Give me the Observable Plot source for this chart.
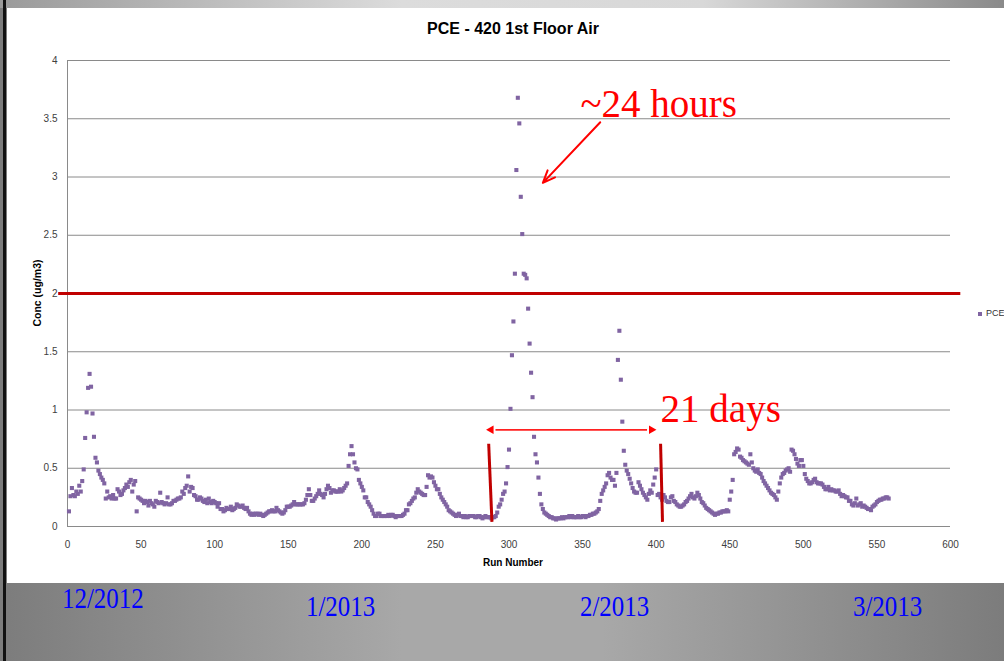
<!DOCTYPE html>
<html>
<head>
<meta charset="utf-8">
<script src="https://cdn.jsdelivr.net/npm/d3@7"></script>
<script src="https://cdn.jsdelivr.net/npm/@observablehq/plot@0.6"></script>
<style>
  html, body { margin: 0; padding: 0; }
  body { width: 1004px; height: 661px; overflow: hidden; position: relative;
         background: linear-gradient(to right, #7c7c7c 0%, #a8a8a8 40%, #a8a8a8 60%, #7c7c7c 100%); }
  #topband { position: absolute; left: 0; top: 0; width: 1004px; height: 8px;
         background: linear-gradient(to right, #9a9a9a 0%, #dcdcdc 40%, #d8d8d8 70%, #8a8a8a 100%); }
  #blackline { position: absolute; left: 3px; top: 0; width: 3px; height: 661px; background: #111; }
  #panel { position: absolute; left: 7px; top: 8px; width: 997px; height: 575px; background: #fff; }
  #chart { position: absolute; left: 0; top: 0; }
  .lbl { position: absolute; font-family: "Liberation Sans", Arial, sans-serif; color: #000; white-space: nowrap; }
  .month { position: absolute; font-family: "Liberation Serif", "Times New Roman", serif; color: #0000ff;
           font-size: 30px; line-height: 1; transform-origin: left top; transform: scaleX(0.83); white-space: nowrap; }
</style>
</head>
<body>
<div id="topband"></div>
<div id="panel"></div>
<div id="blackline"></div>
<div id="chart"></div>
<div class="lbl" id="title" style="left:0;width:1026px;text-align:center;top:20px;font-size:16px;font-weight:bold;">PCE - 420 1st Floor Air</div>
<div class="lbl" id="xlabel" style="left:0;width:1026px;text-align:center;top:557px;font-size:10px;font-weight:bold;">Run Number</div>
<div class="lbl" id="ylabel" style="left:37px;top:293px;font-size:10.5px;font-weight:bold;transform:translate(-50%,-50%) rotate(-90deg);">Conc (ug/m3)</div>
<div class="lbl" id="legend" style="left:978px;top:308px;font-size:9px;color:#333;"><span style="display:inline-block;width:4px;height:4px;background:#8064A2;margin-right:4px;vertical-align:middle;"></span>PCE</div>
<div id="months"></div>
<script>
// PCE concentration (ug/m3) for run numbers 1..558
const conc = [
0.13,0.26,0.33,0.27,0.26,0.30,0.28,0.35,0.30,0.39,
0.49,0.76,0.98,1.19,1.31,1.20,0.97,0.77,0.59,0.55,
0.48,0.45,0.42,0.40,0.37,0.24,0.30,0.25,0.26,0.24,
0.27,0.24,0.24,0.32,0.30,0.27,0.28,0.31,0.33,0.36,
0.34,0.38,0.40,0.30,0.36,0.39,0.13,0.25,0.24,0.23,
0.22,0.20,0.22,0.21,0.18,0.22,0.20,0.19,0.17,0.22,
0.21,0.20,0.29,0.21,0.20,0.19,0.20,0.25,0.19,0.19,
0.20,0.22,0.22,0.23,0.24,0.24,0.25,0.30,0.28,0.33,
0.35,0.43,0.30,0.34,0.33,0.27,0.26,0.23,0.23,0.25,
0.24,0.22,0.21,0.23,0.20,0.24,0.21,0.20,0.22,0.21,
0.20,0.17,0.20,0.15,0.15,0.13,0.14,0.16,0.15,0.15,
0.17,0.14,0.15,0.16,0.19,0.18,0.17,0.17,0.18,0.16,
0.15,0.16,0.13,0.11,0.10,0.11,0.10,0.11,0.11,0.10,
0.11,0.10,0.09,0.10,0.11,0.12,0.13,0.13,0.14,0.13,
0.13,0.16,0.14,0.13,0.12,0.11,0.12,0.14,0.17,0.17,
0.17,0.18,0.19,0.21,0.19,0.19,0.19,0.19,0.19,0.19,
0.20,0.23,0.27,0.32,0.27,0.22,0.22,0.24,0.26,0.28,
0.31,0.28,0.27,0.25,0.28,0.32,0.35,0.33,0.29,0.31,
0.31,0.30,0.30,0.30,0.32,0.30,0.31,0.33,0.35,0.37,
0.52,0.62,0.69,0.62,0.55,0.50,0.49,0.40,0.37,0.34,
0.31,0.25,0.25,0.21,0.19,0.17,0.14,0.11,0.09,0.09,
0.11,0.11,0.09,0.09,0.09,0.09,0.09,0.10,0.09,0.10,
0.10,0.09,0.08,0.09,0.09,0.09,0.09,0.10,0.11,0.14,
0.14,0.19,0.20,0.22,0.24,0.25,0.29,0.32,0.30,0.29,
0.28,0.27,0.27,0.34,0.44,0.42,0.43,0.42,0.38,0.35,
0.32,0.32,0.28,0.25,0.23,0.21,0.19,0.17,0.14,0.13,
0.12,0.11,0.10,0.09,0.10,0.11,0.09,0.09,0.08,0.09,
0.08,0.08,0.09,0.09,0.09,0.09,0.08,0.08,0.09,0.09,
0.08,0.07,0.08,0.09,0.08,0.08,0.08,0.07,0.08,0.08,
0.09,0.12,0.17,0.19,0.23,0.28,0.30,0.37,0.51,0.66,
1.01,1.47,1.76,2.17,3.06,3.68,3.46,2.83,2.51,2.17,
2.16,2.13,1.87,1.57,1.32,1.11,0.77,0.62,0.55,0.42,
0.28,0.19,0.15,0.12,0.11,0.10,0.09,0.08,0.08,0.07,
0.07,0.06,0.07,0.07,0.07,0.08,0.07,0.08,0.08,0.08,
0.09,0.08,0.09,0.08,0.08,0.08,0.09,0.08,0.08,0.09,
0.09,0.08,0.09,0.09,0.10,0.10,0.11,0.11,0.12,0.13,
0.15,0.22,0.28,0.31,0.34,0.37,0.44,0.46,0.42,0.40,
0.40,0.35,0.46,1.43,1.68,1.26,0.90,0.65,0.53,0.48,
0.45,0.41,0.37,0.33,0.30,0.29,0.29,0.38,0.35,0.32,
0.29,0.27,0.25,0.23,0.28,0.31,0.29,0.36,0.42,0.49,
0.27,0.28,0.25,0.23,0.27,0.25,0.22,0.21,0.21,0.25,
0.26,0.22,0.21,0.19,0.18,0.17,0.17,0.18,0.19,0.21,
0.22,0.24,0.26,0.28,0.25,0.24,0.26,0.29,0.27,0.24,
0.21,0.20,0.18,0.16,0.15,0.14,0.13,0.12,0.11,0.10,
0.11,0.11,0.12,0.12,0.13,0.13,0.13,0.14,0.13,0.23,
0.30,0.40,0.62,0.64,0.67,0.66,0.60,0.59,0.57,0.56,
0.55,0.54,0.53,0.62,0.55,0.50,0.48,0.47,0.49,0.46,
0.45,0.42,0.39,0.37,0.35,0.33,0.31,0.29,0.28,0.27,
0.25,0.23,0.30,0.37,0.42,0.45,0.46,0.48,0.49,0.50,
0.47,0.66,0.65,0.62,0.58,0.54,0.52,0.57,0.57,0.52,
0.45,0.41,0.39,0.37,0.37,0.38,0.40,0.41,0.38,0.37,
0.37,0.37,0.36,0.34,0.32,0.32,0.34,0.31,0.32,0.31,
0.31,0.30,0.30,0.31,0.28,0.26,0.27,0.26,0.25,0.25,
0.22,0.22,0.19,0.18,0.20,0.24,0.18,0.19,0.20,0.17,
0.18,0.17,0.16,0.15,0.15,0.14,0.17,0.18,0.19,0.21,
0.22,0.23,0.23,0.24,0.24,0.25,0.25,0.24
];
const runs = conc.map((_, i) => i + 1);
const xTicks = [0, 50, 100, 150, 200, 250, 300, 350, 400, 450, 500, 550, 600];
const yTicks = [0, 0.5, 1, 1.5, 2, 2.5, 3, 3.5, 4];
const limitValue = [2];
const months = ["12/2012", "1/2013", "2/2013", "3/2013"];
// annotations (data coordinates)
const markerLines = [
  {x1: 286.2, y1: 0.71, x2: 288.4, y2: 0.04},
  {x1: 403.0, y1: 0.71, x2: 404.3, y2: 0.04}
];
const spanArrow = {from: 287.8, to: 396.8, y: 0.83};
const peakArrow = {x1: 362, y1: 3.47, x2: 323, y2: 2.95};
const notes = [
  {x: 348.5, y: 3.62, text: "~24 hours"},
  {x: 403.0, y: 1.0, text: "21 days"}
];

const pts = runs.map((r, i) => ({run: r, conc: conc[i]}));

const chart = Plot.plot({
  width: 1004,
  height: 583,
  marginLeft: 67,
  marginRight: 54,
  marginTop: 60,
  marginBottom: 57,
  style: {background: "transparent", fontFamily: "Liberation Sans, Arial, sans-serif", fontSize: "10px", color: "#404040"},
  x: {domain: [0, 600], ticks: xTicks, tickSize: 0, tickPadding: 14, label: null, tickFormat: d => String(d)},
  y: {domain: [0, 4], ticks: yTicks, tickSize: 0, tickPadding: 10, label: null, tickFormat: d => String(d)},
  marks: [
    Plot.ruleY(yTicks, {stroke: "#8a8a8a", strokeWidth: 1}),
    Plot.ruleX([0], {stroke: "#8a8a8a", strokeWidth: 1}),
    Plot.ruleY(limitValue, {x1: -6, x2: 607, stroke: "#c00000", strokeWidth: 3}),
    Plot.dot(pts, {x: "run", y: "conc", symbol: "square", r: 2.3, fill: "#8064A2", stroke: "none"}),
    Plot.link(markerLines, {x1: "x1", y1: "y1", x2: "x2", y2: "y2", stroke: "#c00000", strokeWidth: 3}),
    Plot.link([spanArrow], {x1: d => d.from + 3, x2: d => d.to - 3, y1: "y", y2: "y", stroke: "#ff2020", strokeWidth: 1.8}),
    Plot.dot([spanArrow], {x: "from", y: "y", symbol: "triangle", r: 3.2, rotate: -90, fill: "#ff0000", stroke: "none"}),
    Plot.dot([spanArrow], {x: "to", y: "y", symbol: "triangle", r: 3.2, rotate: 90, fill: "#ff0000", stroke: "none"}),
    Plot.arrow([peakArrow], {x1: "x1", y1: "y1", x2: "x2", y2: "y2", stroke: "#ff0000", strokeWidth: 2, headLength: 10, headAngle: 45}),
    Plot.text(notes, {x: "x", y: "y", text: "text", textAnchor: "start", fill: "#ff0000", fontSize: 39, fontFamily: "Liberation Serif, Times New Roman, serif"})
  ]
});
document.getElementById("chart").appendChild(chart);

const monthPos = [[62, 583], [306, 591], [580, 591], [853, 591]];
const mdiv = document.getElementById("months");
months.forEach((m, i) => {
  const el = document.createElement("div");
  el.className = "month";
  el.textContent = m;
  el.style.left = monthPos[i][0] + "px";
  el.style.top = monthPos[i][1] + "px";
  mdiv.appendChild(el);
});
</script>
</body>
</html>
